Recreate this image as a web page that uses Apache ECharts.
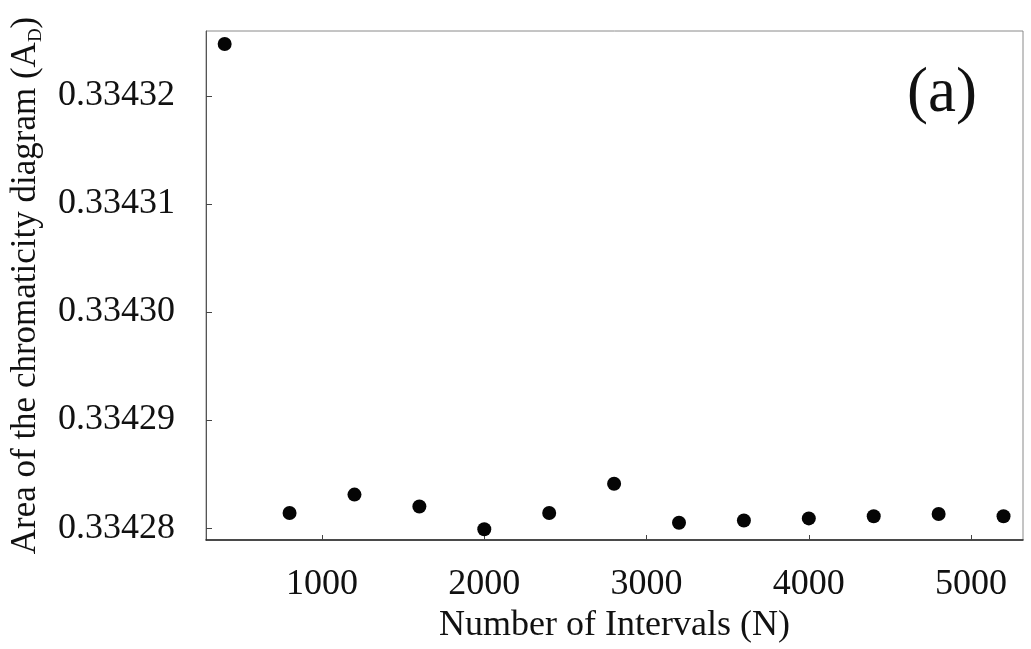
<!DOCTYPE html>
<html>
<head>
<meta charset="utf-8">
<script src="https://cdn.jsdelivr.net/npm/echarts@6/dist/echarts.min.js"></script>
<style>
  html, body { margin: 0; padding: 0; background: #fff; }
  #chart { width: 1031px; height: 649px; }
</style>
</head>
<body>
<div id="chart"></div>
<script>
// number of intervals N and the computed area A_D
const nValues = [400, 800, 1200, 1600, 2000, 2400, 2800, 3200, 3600, 4000, 4400, 4800, 5200]
const areaValues = [
  0.3343248, 0.3342814, 0.3342831, 0.3342820, 0.3342799, 0.3342814, 0.3342841,
  0.3342805, 0.3342807, 0.3342809, 0.3342811, 0.3342813, 0.3342811
]
const xTicks = [1000, 2000, 3000, 4000, 5000]
const yTicks = [0.33428, 0.33429, 0.33430, 0.33431, 0.33432]

const serif = 'Liberation Serif'
const chart = echarts.init(document.getElementById('chart'))

chart.setOption({
  animation: false,
  backgroundColor: '#fff',
  grid: {
    left: 206,
    top: 31,
    right: 8,
    bottom: 109,
    show: true,
    borderColor: '#8a8a8a',
    borderWidth: 1,
    containLabel: false,
    outerBoundsMode: 'none'
  },
  graphic: [{
    type: 'text',
    left: 907,
    top: 63,
    style: { text: '(a)', font: '63px "Liberation Serif"', fill: '#111' }
  }],
  xAxis: {
    type: 'value',
    min: 285,
    max: 5320,
    name: 'Number of Intervals (N)',
    nameLocation: 'middle',
    nameGap: 64,
    nameTextStyle: { fontFamily: serif, fontSize: 36, color: '#111' },
    splitLine: { show: false },
    axisLine: { show: true, lineStyle: { color: '#222', width: 1.5 } },
    axisTick: { show: true, inside: true, length: 5, customValues: xTicks, lineStyle: { color: '#444' } },
    axisLabel: {
      customValues: xTicks,
      margin: 27,
      fontFamily: serif,
      fontSize: 36,
      color: '#111',
      formatter: (v) => String(v)
    }
  },
  yAxis: {
    type: 'value',
    min: 0.3342789,
    max: 0.3343260,
    name: 'Area of the chromaticity diagram (A{sub|D})',
    nameLocation: 'middle',
    nameGap: 160,
    nameTextStyle: {
      fontFamily: serif,
      fontSize: 35,
      color: '#111',
      lineHeight: 40,
      rich: {
        sub: { fontFamily: serif, fontSize: 19, lineHeight: 19, verticalAlign: 'bottom', color: '#111' }
      }
    },
    splitLine: { show: false },
    axisLine: { show: true, lineStyle: { color: '#555', width: 1 } },
    axisTick: { show: true, inside: true, length: 6, customValues: yTicks, lineStyle: { color: '#444' } },
    axisLabel: {
      customValues: yTicks,
      margin: 31,
      fontFamily: serif,
      fontSize: 36,
      color: '#111',
      formatter: (v) => v.toFixed(5)
    }
  },
  series: [{
    type: 'scatter',
    data: nValues.map((n, i) => [n, areaValues[i]]),
    symbol: 'circle',
    symbolSize: 14,
    itemStyle: { color: '#050505', opacity: 1 }
  }]
})
</script>
</body>
</html>
